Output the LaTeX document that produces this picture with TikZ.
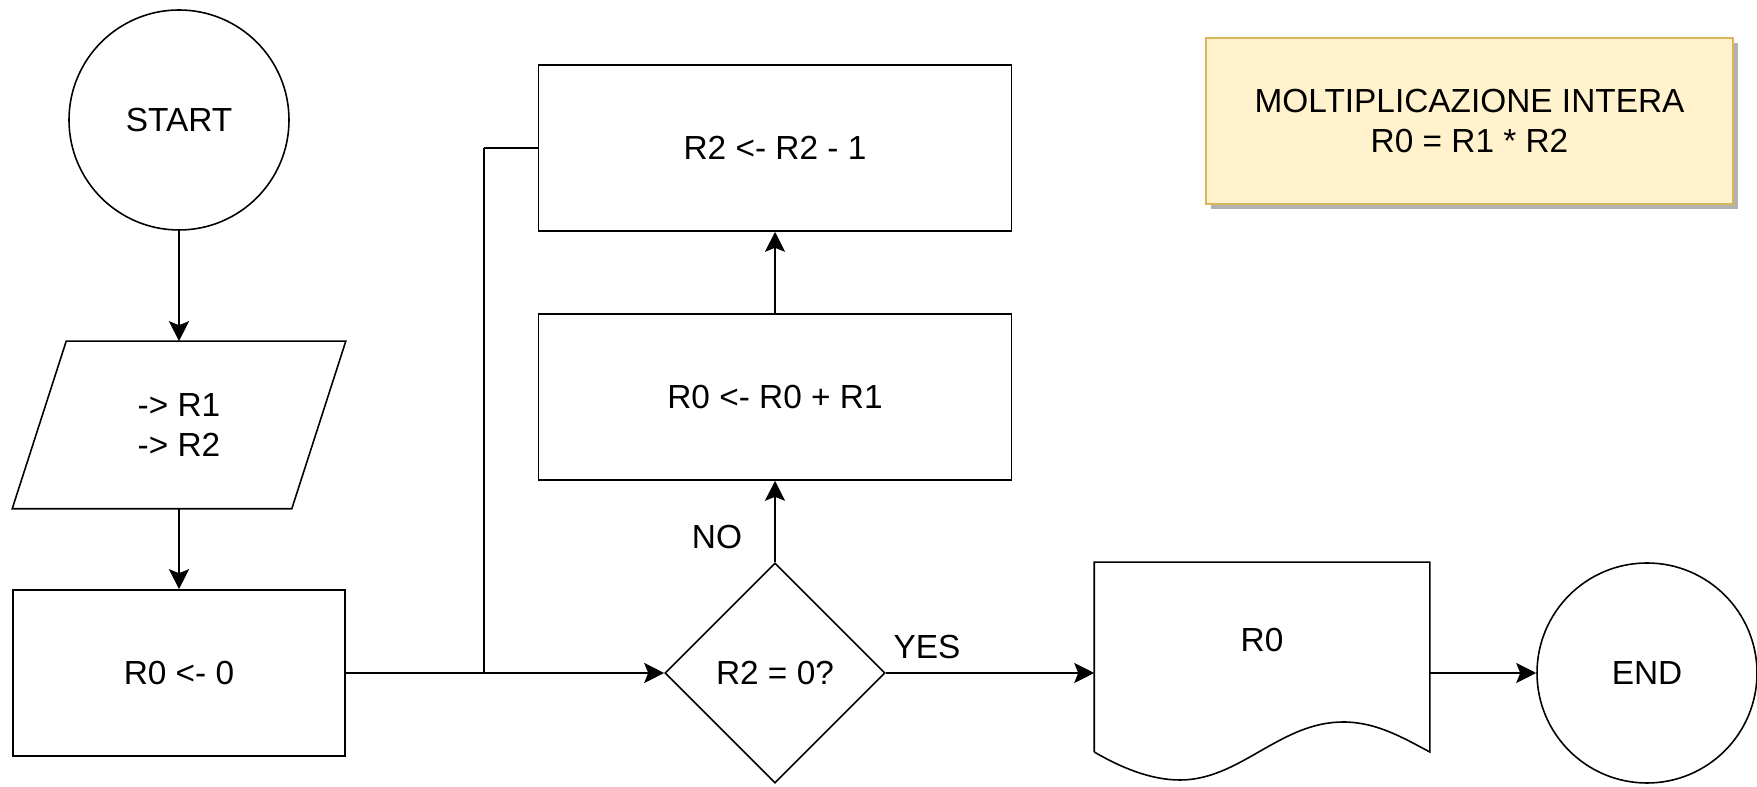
\documentclass[tikz,border=0pt]{standalone}
\usepackage{fontspec}
\setmainfont{Liberation Sans}
\usetikzlibrary{shapes.geometric,arrows.meta,shadows}

\definecolor{notefill}{HTML}{FFF2CC}
\definecolor{notedraw}{HTML}{D6B656}

\def\boxheight{3.32cm}
\def\slant{0.54cm}

\begin{document}
\begin{tikzpicture}[>={Stealth[length=0.4cm,width=0.4cm,inset=0.08cm]}, line width=0.9pt,
        font=\fontsize{19}{23}\selectfont]
            \tikzstyle{terminal}=[circle,draw,minimum size=4.4cm,inner sep=0pt]
            \tikzstyle{process}=[rectangle,draw,minimum height=\boxheight,align=center]
            \tikzstyle{io}=[rectangle,minimum width=5.56cm,minimum height=\boxheight,align=center]
            \tikzstyle{decision}=[diamond,draw,minimum width=4.4cm,minimum height=4.4cm,inner sep=0pt]
            \tikzstyle{document}=[rectangle,minimum width=6.68cm,minimum height=4.4cm]
            \tikzstyle{note}=[rectangle,draw=notedraw,fill=notefill,minimum width=10.54cm,
                minimum height=\boxheight,align=center,
                drop shadow={shadow xshift=0.1cm,shadow yshift=-0.1cm,fill=black!30,opacity=1}]
            \tikzstyle{annot}=[inner sep=0pt]

            \useasboundingbox (0,0) rectangle (35.14,15.74);

            % Left column
            \node[terminal] (start) at (3.58,13.34) {START};
            \node[io] (read) at (3.58,7.24) {-> R1\\-> R2};
            \draw ([xshift=-\slant]read.south west) -- ([xshift=\slant]read.north west)
                -- ([xshift=\slant]read.north east) -- ([xshift=-\slant]read.south east) -- cycle;
            \node[process, minimum width=6.64cm] (init) at (3.58,2.28) {R0 <- 0};

            % Loop
            \node[decision] (test) at (15.5,2.28) {R2 = 0?};
            \node[process, minimum width=9.46cm] (add) at (15.5,7.8) {R0 <- R0 + R1};
            \node[process, minimum width=9.46cm] (dec) at (15.5,12.78) {R2 <- R2 - 1};
            \coordinate (merge) at (9.68,2.28);
            \coordinate (corner) at (merge |- dec.west);

            % Output and end
            \node[document] (out) at (25.24,2.28) {};
            \node[annot] (outtext) at (25.24,2.94) {R0};
            \node[terminal] (end) at (32.94,2.28) {END};
            \draw (out.west |- 0,0.70) -- (out.north west) -- (out.north east) -- (out.east |- 0,0.70)
                .. controls (28.0,1.02) and (27.5,1.30) .. (26.86,1.30)
                .. controls (25.6,1.30) and (24.8,0.14) .. (23.6,0.14)
                .. controls (23.0,0.14) and (22.4,0.40) .. (out.west |- 0,0.70);

            % Note
            \node[note] (title) at (29.39,13.32) {MOLTIPLICAZIONE INTERA\\R0 = R1 * R2};

            % Connectors
            \draw[->] (start) -- (read);
            \draw[->] (read) -- (init);
            \draw[->] (init) -- (test);
            \draw[->] (test) -- (add);
            \draw[->] (add) -- (dec);
            \draw (dec.west) -- (corner);
            \draw[line width=1.6pt] (corner) -- (merge);
            \draw[->] (test) -- (out);
            \draw[->] (out) -- (end);

            % Branch labels
            \node[annot] (no) at (14.34,5.0) {NO};
            \node[annot] (yes) at (18.54,2.8) {YES};
\end{tikzpicture}
\end{document}
